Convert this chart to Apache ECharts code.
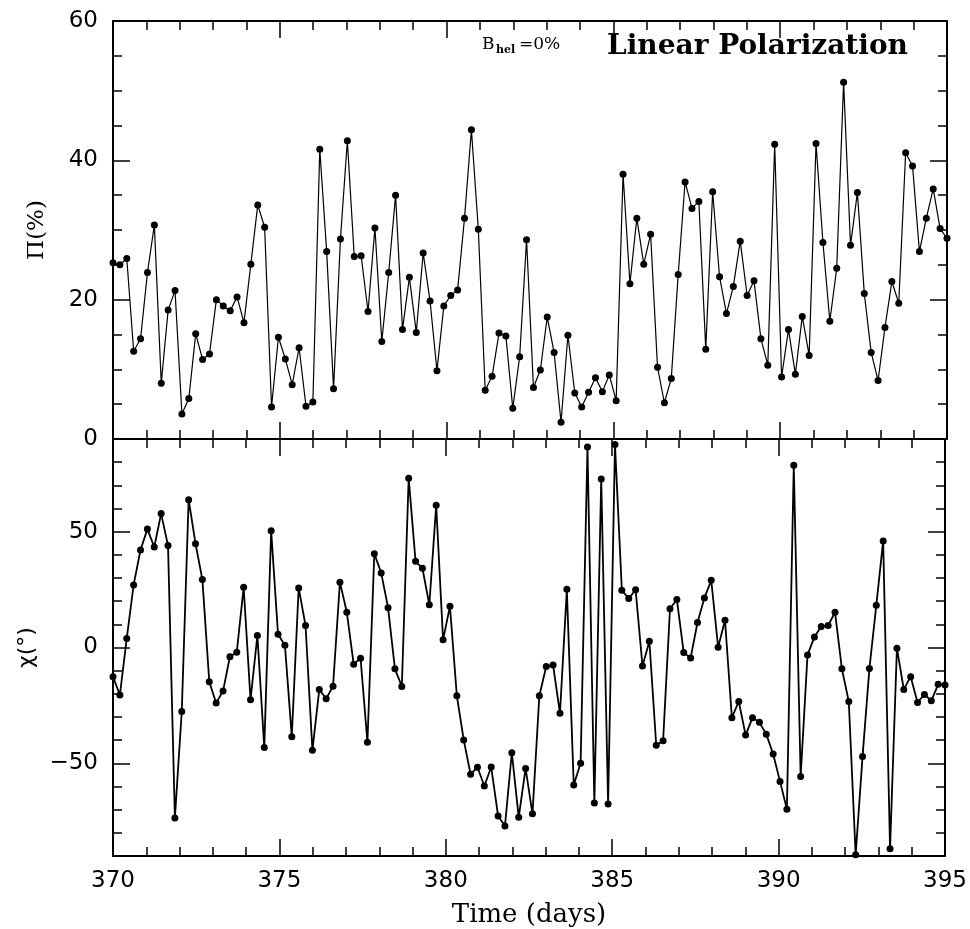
<!DOCTYPE html>
<html>
<head>
<meta charset="utf-8">
<title>Linear Polarization</title>
<script src="https://cdn.jsdelivr.net/npm/echarts@6/dist/echarts.min.js"></script>
<style>
  html, body { margin: 0; padding: 0; background: #fff; }
  #chart { width: 970px; height: 929px; }
</style>
</head>
<body>
<div id="chart"></div>
<script>
// Sampling grid: 122 evenly spaced epochs from day 370 to day 395
const T_START = 370;
const T_END = 395;
const N_SAMPLES = 122;

// Degree of linear polarization, Π (%)
const polDegree = [
  25.3, 25.0, 25.9, 12.6, 14.4, 23.9, 30.7, 8.0, 18.5, 21.3,
  3.6, 5.8, 15.1, 11.4, 12.2, 20.0, 19.1, 18.4, 20.4, 16.7,
  25.1, 33.6, 30.4, 4.6, 14.6, 11.5, 7.8, 13.1, 4.7, 5.3,
  41.6, 26.9, 7.2, 28.7, 42.8, 26.2, 26.3, 18.3, 30.3, 14.0,
  23.9, 35.0, 15.7, 23.2, 15.3, 26.7, 19.8, 9.8, 19.1, 20.6,
  21.4, 31.7, 44.4, 30.1, 7.0, 9.0, 15.2, 14.8, 4.4, 11.8,
  28.6, 7.4, 9.9, 17.5, 12.4, 2.4, 14.9, 6.6, 4.6, 6.7,
  8.8, 6.8, 9.2, 5.5, 38.0, 22.3, 31.7, 25.1, 29.4, 10.3,
  5.2, 8.7, 23.6, 36.9, 33.1, 34.1, 12.9, 35.5, 23.3, 18.0,
  21.9, 28.4, 20.6, 22.7, 14.4, 10.6, 42.3, 8.9, 15.7, 9.3,
  17.6, 12.0, 42.4, 28.2, 16.9, 24.5, 51.2, 27.8, 35.4, 20.9,
  12.4, 8.4, 16.0, 22.6, 19.5, 41.1, 39.2, 26.9, 31.7, 35.9,
  30.2, 28.8
];

// Polarization angle, χ (degrees)
const polAngle = [
  -12.6, -20.5, 3.9, 27.0, 42.1, 51.1, 43.4, 57.8, 44.0, -73.6,
  -27.6, 63.8, 44.8, 29.3, -14.8, -24.0, -18.8, -4.0, -2.0, 26.0,
  -22.6, 5.2, -43.2, 50.4, 5.7, 1.0, -38.5, 25.7, 9.5, -44.4,
  -18.1, -22.1, -16.7, 28.2, 15.2, -7.2, -4.6, -40.9, 40.5, 32.2,
  17.2, -9.2, -16.8, 73.1, 37.2, 34.2, 18.4, 61.4, 3.3, 17.8,
  -20.8, -39.9, -54.7, -51.7, -59.8, -51.6, -72.7, -77.0, -45.4, -73.3,
  -52.2, -71.8, -20.8, -8.2, -7.6, -28.4, 25.1, -59.3, -50.0, 86.5,
  -67.1, 72.7, -67.5, 87.6, 24.7, 21.1, 24.9, -8.0, 2.7, -42.2,
  -40.2, 16.7, 20.7, -2.2, -4.5, 10.8, 21.4, 29.0, 0.1, 11.8,
  -30.3, -23.3, -37.8, -30.3, -32.3, -37.4, -46.0, -57.8, -69.8, 78.7,
  -55.7, -3.2, 4.5, 9.1, 9.5, 15.2, -9.2, -23.3, -89.5, -47.1,
  -9.1, 18.2, 46.0, -86.9, -0.3, -18.1, -12.6, -23.7, -20.3, -23.0,
  -15.9, -16.2
];

// Axis tick labels
const xTickLabels = [370, 375, 380, 385, 390, 395];
const piTickLabels = [0, 20, 40, 60];
const chiTickLabels = [-50, 0, 50];

const times = [];
for (let i = 0; i < N_SAMPLES; i++) {
  times.push(T_START + i * (T_END - T_START) / (N_SAMPLES - 1));
}
const piSeries = times.map((t, i) => [t, polDegree[i]]);
const chiSeries = times.map((t, i) => [t, polAngle[i]]);

const INK = '#000';
const SANS = 'DejaVu Sans';
const SERIF = 'DejaVu Serif';

function xAxisCfg(grid, position, showLabels) {
  return {
    type: 'value', gridIndex: grid, position: position,
    min: xTickLabels[0], max: xTickLabels[xTickLabels.length - 1], interval: 5,
    axisLine: { show: true, onZero: false, lineStyle: { color: INK, width: 2 } },
    axisTick: { show: true, inside: true, length: 17, lineStyle: { color: INK, width: 1.5 } },
    minorTick: { show: true, splitNumber: 5, length: 9, lineStyle: { color: INK, width: 1.5 } },
    axisLabel: {
      show: showLabels, color: INK, fontFamily: SANS, fontSize: 23, margin: 14,
      formatter: v => xTickLabels.includes(v) ? String(v) : ''
    },
    splitLine: { show: false },
    minorSplitLine: { show: false }
  };
}

const minus = v => (v < 0 ? '\u2212' + Math.abs(v) : String(v));

const option = {
  backgroundColor: '#fff',
  animation: false,
  grid: [
    { left: 113, top: 21, width: 834, height: 418, containLabel: false },
    { left: 113, top: 439, width: 834, height: 417, containLabel: false }
  ],
  xAxis: [
    xAxisCfg(0, 'bottom', false),
    xAxisCfg(0, 'top', false),
    Object.assign(xAxisCfg(1, 'bottom', true), {
      name: 'Time (days)', nameLocation: 'middle', nameGap: 46,
      nameTextStyle: { color: INK, fontFamily: SERIF, fontSize: 26 }
    }),
    xAxisCfg(1, 'top', false)
  ],
  yAxis: [
    // Π panel, left (labels) and right (mirror ticks)
    {
      type: 'value', gridIndex: 0, position: 'left', min: 0, max: 60, interval: 20,
      axisLine: { show: true, onZero: false, lineStyle: { color: INK, width: 2 } },
      axisTick: { show: true, inside: true, length: 17, lineStyle: { color: INK, width: 1.5 } },
      minorTick: { show: true, splitNumber: 4, length: 9, lineStyle: { color: INK, width: 1.5 } },
      axisLabel: {
        color: INK, fontFamily: SANS, fontSize: 23, margin: 15,
        formatter: v => piTickLabels.includes(v) ? String(v) : ''
      },
      splitLine: { show: false },
      name: 'Π(%)', nameLocation: 'middle', nameRotate: 90, nameGap: 64,
      nameTextStyle: { color: INK, fontFamily: SERIF, fontSize: 23 }
    },
    {
      type: 'value', gridIndex: 0, position: 'right', min: 0, max: 60, interval: 20,
      axisLine: { show: true, onZero: false, lineStyle: { color: INK, width: 2 } },
      axisTick: { show: true, inside: true, length: 17, lineStyle: { color: INK, width: 1.5 } },
      minorTick: { show: true, splitNumber: 4, length: 9, lineStyle: { color: INK, width: 1.5 } },
      axisLabel: { show: false },
      splitLine: { show: false }
    },
    // χ panel: long ticks and labels at ±50 and 0
    {
      type: 'value', gridIndex: 1, position: 'left', min: -90, max: 90, interval: 10,
      axisLine: { show: true, onZero: false, lineStyle: { color: INK, width: 2 } },
      axisTick: { show: true, inside: true, length: 17, customValues: chiTickLabels,
        lineStyle: { color: INK, width: 1.5 } },
      axisLabel: {
        color: INK, fontFamily: SANS, fontSize: 23, margin: 15, customValues: chiTickLabels,
        formatter: v => chiTickLabels.includes(v) ? minus(v) : ''
      },
      splitLine: { show: false },
      name: 'χ(°)', nameLocation: 'middle', nameRotate: 90, nameGap: 75,
      nameTextStyle: { color: INK, fontFamily: SANS, fontSize: 22 }
    },
    // χ panel: short ticks every 10°
    {
      type: 'value', gridIndex: 1, position: 'left', min: -90, max: 90, interval: 10,
      axisLine: { show: false },
      axisTick: { show: true, inside: true, length: 9, lineStyle: { color: INK, width: 1.5 } },
      axisLabel: { show: false },
      splitLine: { show: false }
    },
    {
      type: 'value', gridIndex: 1, position: 'right', min: -90, max: 90, interval: 10,
      axisLine: { show: true, onZero: false, lineStyle: { color: INK, width: 2 } },
      axisTick: { show: true, inside: true, length: 17, customValues: chiTickLabels,
        lineStyle: { color: INK, width: 1.5 } },
      axisLabel: { show: false },
      splitLine: { show: false }
    },
    {
      type: 'value', gridIndex: 1, position: 'right', min: -90, max: 90, interval: 10,
      axisLine: { show: false },
      axisTick: { show: true, inside: true, length: 9, lineStyle: { color: INK, width: 1.5 } },
      axisLabel: { show: false },
      splitLine: { show: false }
    }
  ],
  series: [
    {
      type: 'line', xAxisIndex: 0, yAxisIndex: 0, data: piSeries,
      symbol: 'circle', symbolSize: 7, showAllSymbol: true,
      lineStyle: { color: INK, width: 1.2 }, itemStyle: { color: INK },
      emphasis: { disabled: true }
    },
    {
      type: 'line', xAxisIndex: 2, yAxisIndex: 2, data: chiSeries,
      symbol: 'circle', symbolSize: 7, showAllSymbol: true,
      lineStyle: { color: INK, width: 1.8 }, itemStyle: { color: INK },
      emphasis: { disabled: true }
    }
  ],
  graphic: [
    {
      type: 'text', left: 607, top: 33,
      style: { text: 'Linear Polarization', fill: INK, font: 'bold 28px "DejaVu Serif"' }
    },
    {
      type: 'text', left: 482, top: 36,
      style: { text: 'B', fill: INK, font: '17px "DejaVu Serif"' }
    },
    {
      type: 'text', left: 496, top: 45,
      style: { text: 'hel', fill: INK, font: 'bold 11px "DejaVu Serif"' }
    },
    {
      type: 'text', left: 519, top: 36,
      style: { text: '=0%', fill: INK, font: '17px "DejaVu Serif"' }
    }
  ]
};

const chart = echarts.init(document.getElementById('chart'), null, { renderer: 'canvas' });
chart.setOption(option);
</script>
</body>
</html>
